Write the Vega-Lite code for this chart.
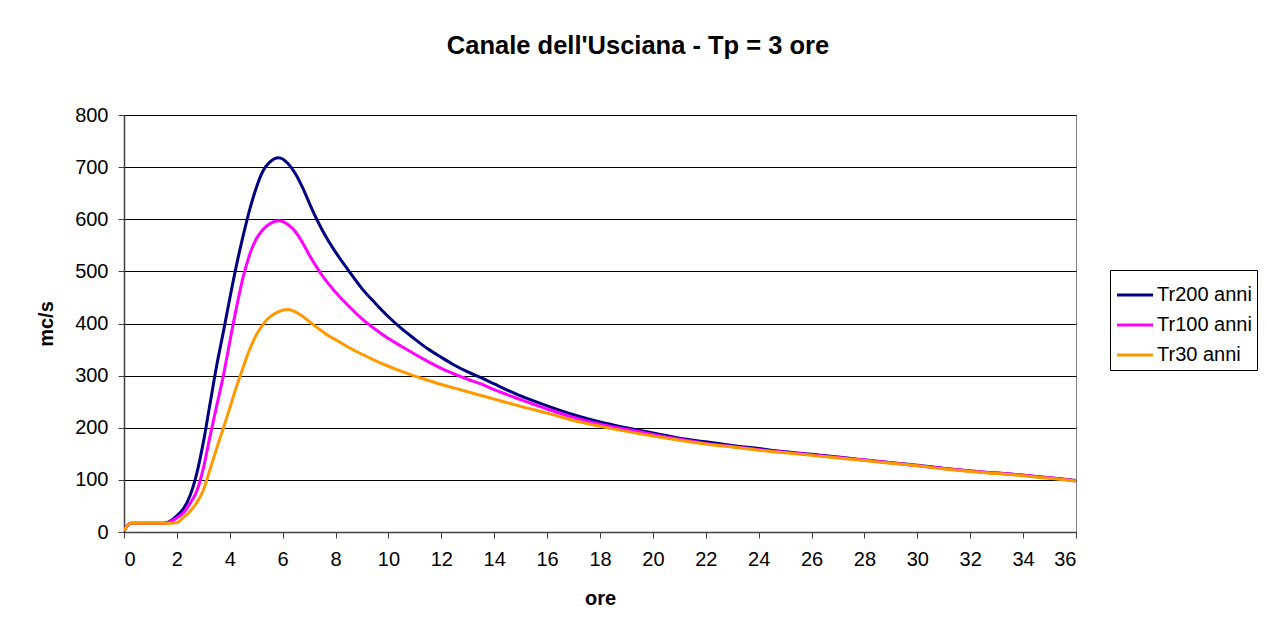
{
  "$schema": "https://vega.github.io/schema/vega-lite/v6.json",
  "autosize": {"type": "none"},
  "padding": {"left": 124, "top": 115, "right": 192, "bottom": 91},
  "width": 952,
  "height": 417,
  "background": "white",
  "title": {
    "text": "Canale dell'Usciana - Tp = 3 ore",
    "font": "Liberation Sans",
    "fontSize": 25.5,
    "fontWeight": "bold",
    "color": "black",
    "anchor": "middle",
    "dx": 38,
    "offset": 46
  },
  "data": {
    "values": [
      {"ore": 0, "Tr200 anni": 3, "Tr100 anni": 3, "Tr30 anni": 3},
      {"ore": 0.25, "Tr200 anni": 17, "Tr100 anni": 17, "Tr30 anni": 17},
      {"ore": 0.5, "Tr200 anni": 17, "Tr100 anni": 17, "Tr30 anni": 17},
      {"ore": 1, "Tr200 anni": 17, "Tr100 anni": 17, "Tr30 anni": 17},
      {"ore": 1.5, "Tr200 anni": 17, "Tr100 anni": 17, "Tr30 anni": 17},
      {"ore": 1.75, "Tr200 anni": 21, "Tr100 anni": 20, "Tr30 anni": 17},
      {"ore": 2, "Tr200 anni": 31, "Tr100 anni": 27, "Tr30 anni": 18},
      {"ore": 2.25, "Tr200 anni": 45, "Tr100 anni": 37, "Tr30 anni": 28},
      {"ore": 2.5, "Tr200 anni": 70, "Tr100 anni": 55, "Tr30 anni": 40},
      {"ore": 2.75, "Tr200 anni": 112, "Tr100 anni": 78, "Tr30 anni": 56},
      {"ore": 3, "Tr200 anni": 172, "Tr100 anni": 122, "Tr30 anni": 80},
      {"ore": 3.25, "Tr200 anni": 245, "Tr100 anni": 183, "Tr30 anni": 120},
      {"ore": 3.5, "Tr200 anni": 318, "Tr100 anni": 241, "Tr30 anni": 160},
      {"ore": 3.75, "Tr200 anni": 382, "Tr100 anni": 298, "Tr30 anni": 198},
      {"ore": 4, "Tr200 anni": 448, "Tr100 anni": 365, "Tr30 anni": 238},
      {"ore": 4.25, "Tr200 anni": 511, "Tr100 anni": 430, "Tr30 anni": 278},
      {"ore": 4.5, "Tr200 anni": 567, "Tr100 anni": 488, "Tr30 anni": 315},
      {"ore": 4.75, "Tr200 anni": 618, "Tr100 anni": 532, "Tr30 anni": 350},
      {"ore": 5, "Tr200 anni": 660, "Tr100 anni": 562, "Tr30 anni": 378},
      {"ore": 5.25, "Tr200 anni": 692, "Tr100 anni": 580, "Tr30 anni": 398},
      {"ore": 5.5, "Tr200 anni": 709, "Tr100 anni": 591, "Tr30 anni": 412},
      {"ore": 5.85, "Tr200 anni": 718, "Tr100 anni": 597, "Tr30 anni": 423},
      {"ore": 6.2, "Tr200 anni": 707, "Tr100 anni": 590, "Tr30 anni": 427},
      {"ore": 6.5, "Tr200 anni": 686, "Tr100 anni": 575, "Tr30 anni": 422},
      {"ore": 6.75, "Tr200 anni": 661, "Tr100 anni": 555, "Tr30 anni": 414},
      {"ore": 7, "Tr200 anni": 632, "Tr100 anni": 532, "Tr30 anni": 404},
      {"ore": 7.25, "Tr200 anni": 604, "Tr100 anni": 511, "Tr30 anni": 394},
      {"ore": 7.5, "Tr200 anni": 579, "Tr100 anni": 492, "Tr30 anni": 385},
      {"ore": 7.75, "Tr200 anni": 557, "Tr100 anni": 475, "Tr30 anni": 376},
      {"ore": 8, "Tr200 anni": 537, "Tr100 anni": 460, "Tr30 anni": 369},
      {"ore": 8.5, "Tr200 anni": 501, "Tr100 anni": 433, "Tr30 anni": 354},
      {"ore": 9, "Tr200 anni": 467, "Tr100 anni": 409, "Tr30 anni": 341},
      {"ore": 9.5, "Tr200 anni": 439, "Tr100 anni": 389, "Tr30 anni": 329},
      {"ore": 10, "Tr200 anni": 413, "Tr100 anni": 371, "Tr30 anni": 318},
      {"ore": 10.5, "Tr200 anni": 390, "Tr100 anni": 356, "Tr30 anni": 308},
      {"ore": 11, "Tr200 anni": 370, "Tr100 anni": 341, "Tr30 anni": 299},
      {"ore": 11.5, "Tr200 anni": 351, "Tr100 anni": 327, "Tr30 anni": 291},
      {"ore": 12, "Tr200 anni": 335, "Tr100 anni": 314, "Tr30 anni": 283},
      {"ore": 12.5, "Tr200 anni": 320, "Tr100 anni": 303, "Tr30 anni": 276},
      {"ore": 13, "Tr200 anni": 307, "Tr100 anni": 293, "Tr30 anni": 269},
      {"ore": 13.5, "Tr200 anni": 296, "Tr100 anni": 284, "Tr30 anni": 262},
      {"ore": 14, "Tr200 anni": 284, "Tr100 anni": 273, "Tr30 anni": 255},
      {"ore": 15, "Tr200 anni": 261, "Tr100 anni": 254, "Tr30 anni": 241},
      {"ore": 16, "Tr200 anni": 242, "Tr100 anni": 236, "Tr30 anni": 228},
      {"ore": 17, "Tr200 anni": 225, "Tr100 anni": 220, "Tr30 anni": 214},
      {"ore": 18, "Tr200 anni": 211, "Tr100 anni": 207, "Tr30 anni": 203},
      {"ore": 19, "Tr200 anni": 200, "Tr100 anni": 197, "Tr30 anni": 193},
      {"ore": 20, "Tr200 anni": 190, "Tr100 anni": 187, "Tr30 anni": 184},
      {"ore": 21, "Tr200 anni": 180, "Tr100 anni": 178, "Tr30 anni": 176},
      {"ore": 22, "Tr200 anni": 173, "Tr100 anni": 170, "Tr30 anni": 169},
      {"ore": 23, "Tr200 anni": 166, "Tr100 anni": 164, "Tr30 anni": 163},
      {"ore": 24, "Tr200 anni": 160, "Tr100 anni": 158, "Tr30 anni": 157},
      {"ore": 25, "Tr200 anni": 154, "Tr100 anni": 153, "Tr30 anni": 152},
      {"ore": 26, "Tr200 anni": 149, "Tr100 anni": 148, "Tr30 anni": 147},
      {"ore": 27, "Tr200 anni": 144, "Tr100 anni": 143, "Tr30 anni": 142},
      {"ore": 28, "Tr200 anni": 138, "Tr100 anni": 138, "Tr30 anni": 137},
      {"ore": 29, "Tr200 anni": 133, "Tr100 anni": 133, "Tr30 anni": 132},
      {"ore": 30, "Tr200 anni": 128, "Tr100 anni": 127, "Tr30 anni": 127},
      {"ore": 31, "Tr200 anni": 122, "Tr100 anni": 122, "Tr30 anni": 121},
      {"ore": 32, "Tr200 anni": 117, "Tr100 anni": 117, "Tr30 anni": 116},
      {"ore": 33, "Tr200 anni": 113, "Tr100 anni": 113, "Tr30 anni": 112},
      {"ore": 34, "Tr200 anni": 109, "Tr100 anni": 109, "Tr30 anni": 108},
      {"ore": 35, "Tr200 anni": 104, "Tr100 anni": 104, "Tr30 anni": 103},
      {"ore": 36, "Tr200 anni": 99, "Tr100 anni": 98, "Tr30 anni": 98}
    ]
  },
  "transform": [
    {"fold": ["Tr200 anni", "Tr100 anni", "Tr30 anni"], "as": ["serie", "portata"]}
  ],
  "mark": {"type": "line", "strokeWidth": 3, "interpolate": "monotone", "clip": true},
  "encoding": {
    "x": {
      "field": "ore",
      "type": "quantitative",
      "scale": {"domain": [0, 36], "nice": false, "zero": false},
      "axis": {
        "title": "ore",
        "values": [0,2,4,6,8,10,12,14,16,18,20,22,24,26,28,30,32,34,36],
        "grid": false,
        "domainColor": "#404040",
        "domainWidth": 1.5,
        "tickColor": "#404040",
        "tickSize": 6,
        "labelPadding": 11,
        "labelFont": "Liberation Sans",
        "labelFontSize": 20,
        "labelColor": "black",
        "titleFont": "Liberation Sans",
        "titleFontSize": 20,
        "titleFontWeight": "bold",
        "titleColor": "black",
        "titlePadding": 19
      }
    },
    "y": {
      "field": "portata",
      "type": "quantitative",
      "scale": {"domain": [0, 800], "nice": false},
      "axis": {
        "title": "mc/s",
        "values": [0,100,200,300,400,500,600,700,800],
        "grid": true,
        "gridColor": "black",
        "gridWidth": 1,
        "domainColor": "#404040",
        "domainWidth": 1.5,
        "tickColor": "#404040",
        "tickSize": 6,
        "labelPadding": 10,
        "labelFont": "Liberation Sans",
        "labelFontSize": 20,
        "labelColor": "black",
        "titleFont": "Liberation Sans",
        "titleFontSize": 20,
        "titleFontWeight": "bold",
        "titleColor": "black",
        "titlePadding": 18
      }
    },
    "color": {
      "field": "serie",
      "type": "nominal",
      "scale": {
        "domain": ["Tr200 anni", "Tr100 anni", "Tr30 anni"],
        "range": ["#000080", "#FF00FF", "#FF9900"]
      },
      "legend": {
        "title": null,
        "orient": "none",
        "legendX": 986,
        "legendY": 155,
        "strokeColor": "black",
        "padding": 5,
        "symbolType": "stroke",
        "symbolStrokeWidth": 3,
        "symbolSize": 1300,
        "labelOffset": 2,
        "labelFont": "Liberation Sans",
        "labelFontSize": 20,
        "labelColor": "black",
        "rowPadding": 0,
        "fillColor": "white"
      }
    }
  },
  "config": {
    "view": {"stroke": "#808080", "strokeWidth": 1}
  }
}
